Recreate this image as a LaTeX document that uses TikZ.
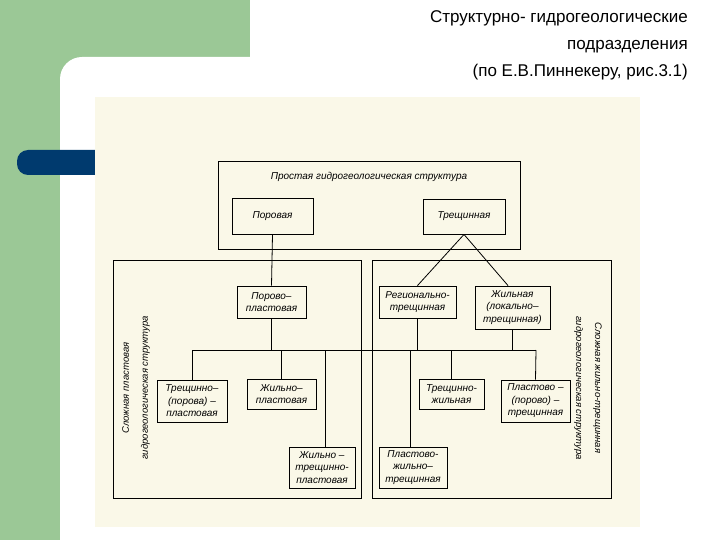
\documentclass[tikz,border=0pt]{standalone}
\usepackage{fontspec}
\setmainfont{Liberation Sans}
\definecolor{sgreen}{RGB}{155,200,150}
\definecolor{sblue}{RGB}{0,58,110}
\definecolor{scan}{RGB}{250,248,232}
\begin{document}
\begin{tikzpicture}[x=1pt,y=-1pt,
  bx/.style={draw,line width=0.9pt,fill=none},
  lbl/.style={font=\fontsize{10}{12.5}\selectfont\itshape,align=center,inner sep=0},
  side/.style={lbl,font=\fontsize{9.5}{19}\selectfont\itshape},
  ln/.style={line width=0.8pt}]
\useasboundingbox (0,0) rectangle (720,540);
\fill[white] (0,0) rectangle (720,540);
\fill[sgreen] (0,0) rectangle (250,57);
\fill[sgreen] (0,0) rectangle (60,540);
\fill[sgreen] (60,57) rectangle (85,82);
\fill[white] (60,79) arc[start angle=180,end angle=270,radius=22] -- (720,57) -- (720,540) -- (60,540) -- cycle;
\fill[sblue,rounded corners=11pt] (17,150) rectangle (120,175);
\fill[sblue] (100,150) rectangle (120,175);
\fill[scan] (95,97) rectangle (640,527);
\node[font=\fontsize{17}{27}\selectfont,align=right,anchor=north east,inner sep=0] (title) at (688,10)
  {Структурно- гидрогеологические\\подразделения\\(по Е.В.Пиннекеру, рис.3.1)};
% containers
\node[bx,minimum width=302,minimum height=88,inner sep=0] (top) at (369,205) {};
\node[lbl,anchor=north] (toplbl) at (369,172) {Простая гидрогеологическая структура};
\node[bx,minimum width=248,minimum height=238,inner sep=0] (left) at (237,379) {};
\node[bx,minimum width=239,minimum height=238,inner sep=0] (right) at (491.5,379) {};
\node[side,rotate=90] (leftlbl) at (136,388) {Сложная пластовая\\гидрогеологическая структура};
\node[side,rotate=-90] (rightlbl) at (588,388) {Сложная жильно-трещинная\\гидрогеологическая структура};
% boxes
\node[bx,minimum width=81,minimum height=36,lbl] (por) at (272.5,216) {Поровая};
\node[bx,minimum width=82,minimum height=35,lbl] (tr) at (464,216.5) {Трещинная};
\node[bx,minimum width=69,minimum height=32,lbl] (pp) at (271.5,302) {Порово–\\пластовая};
\node[bx,minimum width=77,minimum height=32,lbl] (rt) at (417.5,302) {Регионально-\\трещинная};
\node[bx,minimum width=75,minimum height=43,lbl] (zh) at (512.5,307.5) {Жильная\\(локально–\\трещинная)};
\node[bx,minimum width=70,minimum height=42,lbl] (tpp) at (192,401) {Трещинно–\\(порова) –\\пластовая};
\node[bx,minimum width=69,minimum height=30,lbl] (zhp) at (281.5,394) {Жильно–\\пластовая};
\node[bx,minimum width=66,minimum height=41,lbl] (zhtp) at (322,467.5) {Жильно –\\трещинно-\\пластовая};
\node[bx,minimum width=65,minimum height=30,lbl] (tzh) at (451.5,394) {Трещинно-\\жильная};
\node[bx,minimum width=69,minimum height=42,lbl] (ppt) at (535.5,401) {Пластово –\\(порово) –\\трещинная};
\node[bx,minimum width=68,minimum height=41,lbl] (pzht) at (413,467.5) {Пластово-\\жильно–\\трещинная};
% connectors
\draw[ln] (por.south) -- (pp.north);
\draw[ln] (tr.south) -- (rt.north);
\draw[ln] (tr.south) -- (zh.north -| 508,0);
\coordinate (busL) at (192,350);
\coordinate (busR) at (536,350);
\draw[ln] (busL) -- (busR);
\draw[ln] (pp.south) -- (pp.south |- busL);
\draw[ln] (rt.south) -- (rt.south |- busL);
\draw[ln] (zh.south) -- (zh.south |- busL);
\draw[ln] (busL) -- (tpp.north);
\draw[ln] (zhp.north |- busL) -- (zhp.north);
\draw[ln] (325,350) -- (zhtp.north -| 325,0);
\draw[ln] (410,350) -- (pzht.north -| 410,0);
\draw[ln] (tzh.north |- busL) -- (tzh.north);
\draw[ln] (busR) -- (ppt.north);
\end{tikzpicture}
\end{document}
